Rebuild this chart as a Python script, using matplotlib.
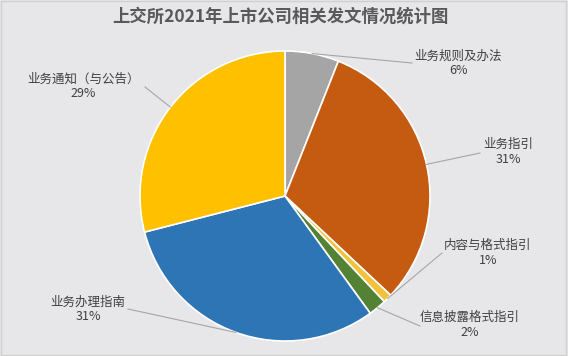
import numpy as np
import matplotlib
matplotlib.use("Agg")
from matplotlib import pyplot as plt

plt.rcParams['font.family'] = ['Noto Sans CJK SC', 'DejaVu Sans']

# data (clockwise from 12 o'clock)
names = ['业务规则及办法', '业务指引', '内容与格式指引', '信息披露格式指引', '业务办理指南', '业务通知（与公告）']
shares = [6, 31, 1, 2, 31, 29]
colors = ['#a5a5a5', '#c55a11', '#f2c23a', '#548235', '#2e75b6', '#ffc000']

# label block centres and leader-line elbows (pixel layout, y from top)
label_xy = [(458, 63), (508, 152), (488, 253), (470, 325), (88, 309), (83, 86)]
elbow_xy = [(412, 63), (480, 153), (442, 253), (420, 326), (128, 309), (145, 87)]

W, H = 568, 356
fig = plt.figure(figsize=(W / 100, H / 100), dpi=100)
fig.patch.set_facecolor('#e7e6e8')
ax = fig.add_axes([0, 0, 1, 1])
ax.set_facecolor('#e7e6e8')

cx, cy, r = 285, H - 196, 145
wedges, _ = ax.pie(shares, colors=colors, startangle=90, counterclock=False,
                   center=(cx, cy), radius=r, frame=True,
                   wedgeprops=dict(edgecolor='white', linewidth=1.2))
ax.set_xlim(0, W)
ax.set_ylim(0, H)
ax.set_aspect('auto')
ax.axis('off')

for w, n, s, (lx, ly), (ex, ey) in zip(wedges, names, shares, label_xy, elbow_xy):
    ang = np.deg2rad((w.theta1 + w.theta2) / 2)
    px, py = cx + r * np.cos(ang), cy + r * np.sin(ang)
    ax.plot([px, ex], [py, H - ey], color='#a6a6a6', lw=0.8)
    ax.text(lx, H - ly, '%s\n%d%%' % (n, s), ha='center', va='center',
            fontsize=9, color='#404040', linespacing=1.15)

fig.text(280 / W, 1 - 17 / H, '上交所2021年上市公司相关发文情况统计图', ha='center', va='center',
         fontsize=12.5, fontweight='bold', color='#595959')

# thin frame
ax.plot([1, W - 2, W - 2, 1, 1], [1, 1, H - 1, H - 1, 1], color='#d0d0d0', lw=1)

fig.savefig('out.png', dpi=100, facecolor=fig.get_facecolor())
